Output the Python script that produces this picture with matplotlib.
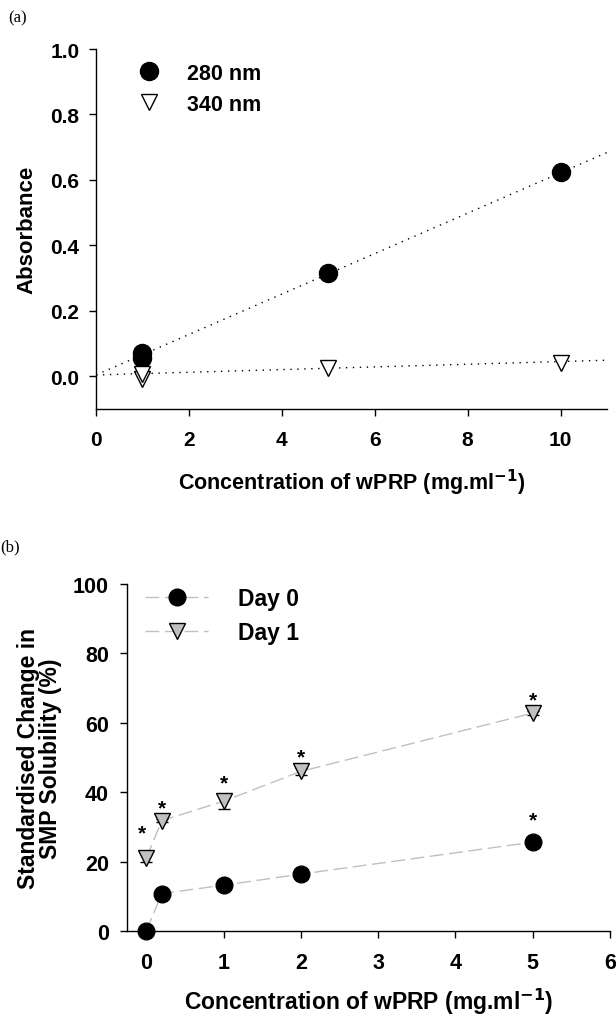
import matplotlib
matplotlib.use("Agg")
import matplotlib.pyplot as plt
import numpy as np

plt.rcParams['font.family'] = ['Liberation Sans', 'DejaVu Sans']
plt.rcParams['font.weight'] = 'bold'
plt.rcParams['axes.linewidth'] = 1.0

# (a) absorbance data
conc_a = [1, 1, 5, 10]
abs_280 = [0.055, 0.07, 0.315, 0.625]
abs_340 = [-0.008, 0.008, 0.025, 0.04]
fit_280 = (0.0618, 0.004)   # slope, intercept
fit_340 = (0.0041, 0.004)
xticks_a = [0, 2, 4, 6, 8, 10]
yticks_a = [0.0, 0.2, 0.4, 0.6, 0.8, 1.0]

# (b) solubility data
conc_b = [0, 0.2, 1, 2, 5]
day0 = [0, 10.8, 13.2, 16.4, 25.6]
day0_err = [0, 0.5, 0.5, 0.5, 1.5]
day1 = [21, 31.8, 37.4, 46, 62.8]
day1_err = [1.2, 0.5, 2.2, 1.0, 0.6]
day0_sig = [False, False, False, False, True]
day1_sig = [True, True, True, True, True]
xticks_b = [0, 1, 2, 3, 4, 5, 6]
yticks_b = [0, 20, 40, 60, 80, 100]

xlabel = 'Concentration of wPRP (mg.ml$\\mathbf{^{-1}}$)'
GREY = '#c0c0c0'

fig = plt.figure(figsize=(6.16, 10.2), dpi=100)


def style_axes(ax, fs, xpad, ypad):
    ax.spines['top'].set_visible(False)
    ax.spines['right'].set_visible(False)
    ax.tick_params(direction='out', length=5, width=1, labelsize=fs)
    ax.tick_params(axis='x', pad=xpad)
    ax.tick_params(axis='y', pad=ypad)
    for lab in ax.get_xticklabels() + ax.get_yticklabels():
        lab.set_fontweight('bold')


# ---- panel (a)
ax1 = fig.add_axes([96/616, 1-410/1020, (607-96)/616, (410-50)/1020])
xs = np.array([0, 11])
ax1.plot(xs, fit_280[0]*xs + fit_280[1], color='black', lw=1, ls=(0, (1, 4)))
ax1.plot(xs, fit_340[0]*xs + fit_340[1], color='black', lw=1, ls=(0, (1, 4)))
ax1.plot(conc_a, abs_280, 'o', color='black', ms=13, mec='black', label='280 nm', zorder=3)
ax1.plot(conc_a, abs_340, 'v', mfc='white', mec='black', ms=12, mew=1, label='340 nm', zorder=3)
ax1.set_xlim(0, 11)
ax1.set_ylim(-0.1, 1.0)
ax1.set_xticks(xticks_a)
ax1.set_yticks(yticks_a)
ax1.set_yticklabels(['%.1f' % v for v in yticks_a])
style_axes(ax1, 15, 10, 7)
ax1.set_xlabel(xlabel, fontsize=15.5, fontweight='bold', labelpad=13)
ax1.set_ylabel('Absorbance', fontsize=16, fontweight='bold', labelpad=9)
ax1.legend(loc='upper left', bbox_to_anchor=(0.035, 1.015), frameon=False,
           fontsize=15.5, handletextpad=1.0, labelspacing=0.45, handlelength=1.5)
fig.text(8/616, 1-18/1020, '(a)', family='Liberation Serif', fontweight='normal',
         fontsize=12, ha='left', va='center')

# ---- panel (b)
ax2 = fig.add_axes([127/616, 1-932/1020, (610-127)/616, (932-585)/1020])
dash = (0, (10, 4))
ax2.errorbar(conc_b, day0, yerr=day0_err, fmt='none', ecolor='black',
             elinewidth=1, capsize=4, zorder=2, clip_on=False)
ax2.errorbar(conc_b, day1, yerr=day1_err, fmt='none', ecolor='black',
             elinewidth=1, capsize=4, zorder=2, clip_on=False)
ax2.plot(conc_b, day0, color=GREY, ls=dash, lw=1, marker='o', mfc='black',
         mec='black', ms=12, label='Day 0', zorder=3, clip_on=False)
ax2.plot(conc_b, day1, color=GREY, ls=dash, lw=1, marker='v', mfc=GREY,
         mec='black', mew=1, ms=12, label='Day 1', zorder=3, clip_on=False)

# significance stars, placed above each marker / error bar
for vals, errs, sig, gap in [(day1, day1_err, day1_sig, 8), (day0, day0_err, day0_sig, 12)]:
    for x, y, e, s in zip(conc_b, vals, errs, sig):
        if s:
            dx, dy = (-3, 15) if x == 0 else (0, gap)
            ax2.annotate('*', (x, y + e), xytext=(dx, dy),
                         textcoords='offset points', ha='center', va='center',
                         fontsize=15, fontweight='bold')
ax2.set_xlim(-0.25, 6)
ax2.set_ylim(0, 100)
ax2.set_xticks(xticks_b)
ax2.set_yticks(yticks_b)
style_axes(ax2, 15.5, 10, 8)
ax2.set_xlabel(xlabel, fontsize=16.5, fontweight='bold', labelpad=9)
ax2.set_ylabel('Standardised Change in\nSMP Solubility (%)', fontsize=16.5,
               fontweight='bold', labelpad=8, linespacing=0.95)
ax2.legend(loc='upper left', bbox_to_anchor=(-0.005, 1.05), frameon=False,
           fontsize=16.5, handletextpad=1.3, labelspacing=0.45, handlelength=2.75)
fig.text(0, 1-547/1020, '(b)', family='Liberation Serif', fontweight='normal',
         fontsize=12, ha='left', va='center')

fig.savefig('out.png', dpi=100)
